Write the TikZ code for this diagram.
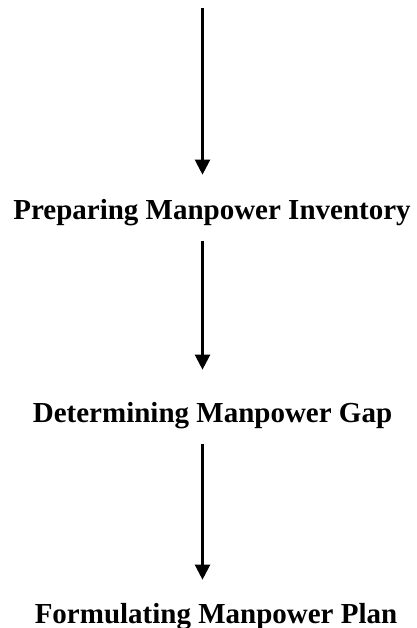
\documentclass[tikz,border=0pt]{standalone}
\usepackage{fontspec}
\setmainfont{Liberation Serif}
\usetikzlibrary{arrows.meta}
\tikzset{
    steptext/.style={anchor=base, inner sep=0pt, font=\fontsize{29}{34}\bfseries\selectfont},
    flowarrow/.style={line width=2.3pt, -{Triangle[width=15pt, length=15pt]}}
}
\begin{document}
\begin{tikzpicture}[x=1pt, y=1pt]
        \useasboundingbox (0,0) rectangle (416,628);

        % Steps
        \node[steptext] (inventory) at (212,408) {Preparing Manpower Inventory};
        \node[steptext] (gap) at (212.5,205) {Determining Manpower Gap};
        \node[steptext] (plan) at (216,5) {Formulating Manpower Plan};
        \coordinate (start) at (202.5,620);

        % Arrows
        \draw[flowarrow, shorten >=25pt] (start) -- (inventory.north -| start);
        \draw[flowarrow, shorten <=14pt, shorten >=33pt] (inventory.south -| start) -- (gap.north -| start);
        \draw[flowarrow, shorten <=14pt, shorten >=23pt] (gap.south -| start) -- (plan.north -| start);

    \end{tikzpicture}
\end{document}
